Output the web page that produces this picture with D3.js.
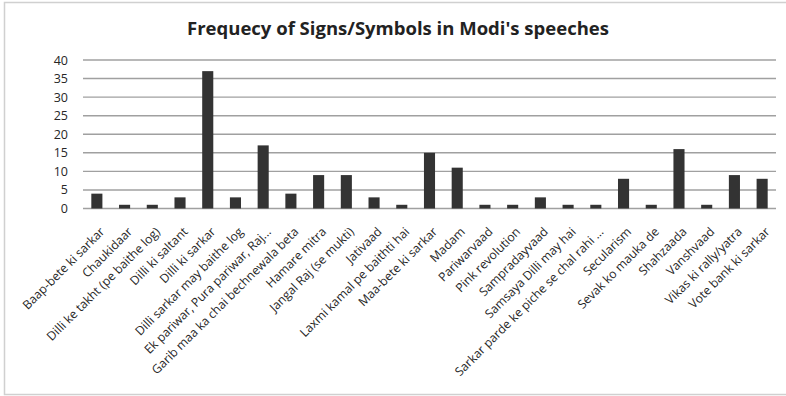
<!DOCTYPE html>
<html>
<head>
<meta charset="utf-8">
<script src="https://cdn.jsdelivr.net/npm/d3@7"></script>
<style>
  html, body { margin: 0; padding: 0; background: #fff; }
  svg { display: block; }
</style>
</head>
<body>
<svg id="chart" width="786" height="396"></svg>
<script>
const titleText = "Frequecy of Signs/Symbols in Modi's speeches";
const categories = [
  "Baap-bete ki sarkar", "Chaukidaar", "Dilli ke takht  (pe baithe log)", "Dilli ki saltant",
  "Dilli ki sarkar", "Dilli sarkar may baithe log", "Ek pariwar, Pura pariwar, Raj...",
  "Garib maa ka chai bechnewala beta", "Hamare mitra", "Jangal Raj (se mukti)", "Jativaad",
  "Laxmi kamal pe baithti hai", "Maa-bete ki sarkar", "Madam", "Pariwarvaad", "Pink revolution",
  "Sampradayvaad", "Samsaya Dilli may hai", "Sarkar parde ke piche se chal rahi ...",
  "Secularism", "Sevak ko mauka de", "Shahzaada", "Vanshvaad", "Vikas ki rally/yatra",
  "Vote bank ki sarkar"
];
const values = [4, 1, 1, 3, 37, 3, 17, 4, 9, 9, 3, 1, 15, 11, 1, 1, 3, 1, 1, 8, 1, 16, 1, 9, 8];
const yTicks = [0, 5, 10, 15, 20, 25, 30, 35, 40];

const svg = d3.select("#chart");
const font = "'Open Sans', 'Liberation Sans', sans-serif";

// outer frame
svg.append("rect")
  .attr("x", 4.5).attr("y", 2.5)
  .attr("width", 820).attr("height", 392)
  .attr("fill", "#fff").attr("stroke", "#d0d0d0").attr("stroke-width", 1.5);

const mLeft = 83, mRight = 776, mTop = 60, mBottom = 208.5;

const x = d3.scaleBand().domain(categories).range([mLeft, mRight]).paddingInner(0.6).paddingOuter(0.3);
const y = d3.scaleLinear().domain([0, 40]).range([mBottom, mTop]);

// title
svg.append("text")
  .attr("x", 398).attr("y", 35)
  .attr("text-anchor", "middle")
  .attr("font-family", font)
  .attr("font-weight", "bold")
  .attr("font-size", 18.5)
  .attr("fill", "#222")
  .text(titleText);

// gridlines
svg.append("g")
  .selectAll("line")
  .data(yTicks)
  .join("line")
  .attr("x1", mLeft).attr("x2", mRight)
  .attr("y1", d => y(d)).attr("y2", d => y(d))
  .attr("stroke", "#a0a0a0").attr("stroke-width", 1.4);

// y labels
const yAxis = d3.axisLeft(y).tickValues(yTicks).tickSize(0).tickPadding(15);
const gy = svg.append("g").attr("transform", `translate(${mLeft},0)`).call(yAxis);
gy.select(".domain").remove();
gy.selectAll("text")
  .attr("font-family", font).attr("font-size", 12.5).attr("fill", "#262626");

// bars
svg.append("g")
  .selectAll("rect")
  .data(values)
  .join("rect")
  .attr("x", (d, i) => x(categories[i]))
  .attr("width", x.bandwidth())
  .attr("y", d => y(d))
  .attr("height", d => y(0) - y(d))
  .attr("fill", "#333333");

// category labels
svg.append("g")
  .selectAll("text")
  .data(categories)
  .join("text")
  .attr("transform", d => `translate(${x(d) + x.bandwidth() / 2},224) rotate(-45)`)
  .attr("dy", 12)
  .attr("text-anchor", "end")
  .attr("font-family", font)
  .attr("font-size", 12.2)
  .attr("fill", "#262626")
  .text(d => d);
</script>
</body>
</html>
